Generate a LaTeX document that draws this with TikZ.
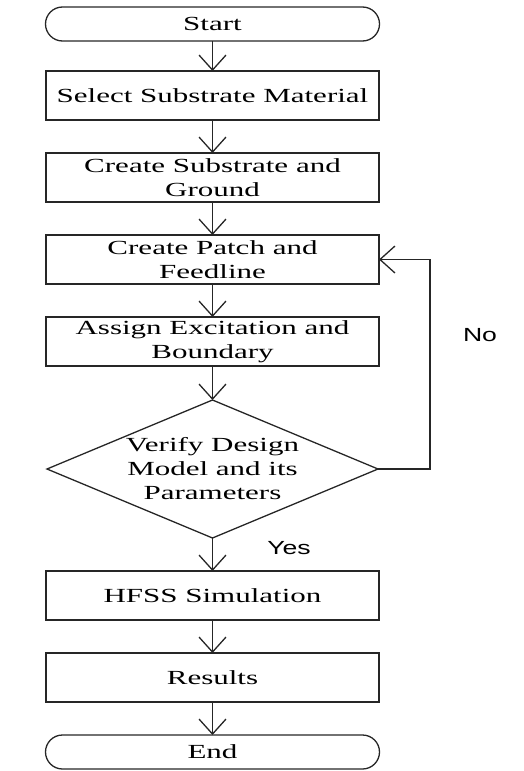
\documentclass[tikz,border=0pt]{standalone}
\usepackage{fontspec}
\setmainfont{Liberation Serif}[FakeStretch=1.55]
\newfontfamily\answerfont{Liberation Sans}[FakeStretch=1.4]
\usetikzlibrary{shapes.geometric, arrows.meta, positioning}

\begin{document}
\begin{tikzpicture}[
    x=1pt, y=-1pt,
    node distance=33pt,
    font=\fontsize{20}{24}\selectfont,
    terminal/.style={rectangle, rounded corners=17pt, draw=black!85, line width=1.3pt, minimum width=334pt, minimum height=34pt, inner sep=0pt, outer sep=0pt, align=center},
    process/.style={rectangle, draw=black!85, line width=1.3pt, minimum width=333pt, minimum height=49pt, inner sep=0pt, outer sep=0pt, align=center},
    decision/.style={diamond, aspect=2.4, draw=black!85, line width=1.3pt, minimum width=331pt, minimum height=138pt, inner sep=0pt, outer sep=0pt, align=center},
    answer/.style={font=\answerfont\fontsize{19}{22}\selectfont},
    flow/.style={-{Straight Barb[length=15pt, width=27pt]}, line width=1.3pt, draw=black!85}
]
    \useasboundingbox (0,0) rectangle (523,771);

    \node[terminal] (start) at (212.5,24) {Start};
    \node[process, below=30pt of start] (material) {Select Substrate Material};
    \node[process, below=of material] (substrate) {Create Substrate and\\Ground};
    \node[process, below=of substrate] (patch) {Create Patch and\\Feedline};
    \node[process, below=of patch] (excitation) {Assign Excitation and\\Boundary};
    \node[decision, below=34pt of excitation] (verify) {Verify Design\\Model and its\\Parameters};
    \node[process, below=of verify] (hfss) {HFSS Simulation};
    \node[process, below=of hfss] (results) {Results};
    \node[terminal, below=of results] (end) {End};

    \node[answer] (yes) at (289,548) {Yes};
    \node[answer] (no) at (480,335) {No};

    \draw[flow] (start) -- (material);
    \draw[flow] (material) -- (substrate);
    \draw[flow] (substrate) -- (patch);
    \draw[flow] (patch) -- (excitation);
    \draw[flow] (excitation) -- (verify);
    \draw[flow] (verify) -- (hfss);
    \draw[flow] (hfss) -- (results);
    \draw[flow] (results) -- (end);
    \draw[flow] (verify.east) -- ++(52,0) |- (patch.east);
\end{tikzpicture}
\end{document}
